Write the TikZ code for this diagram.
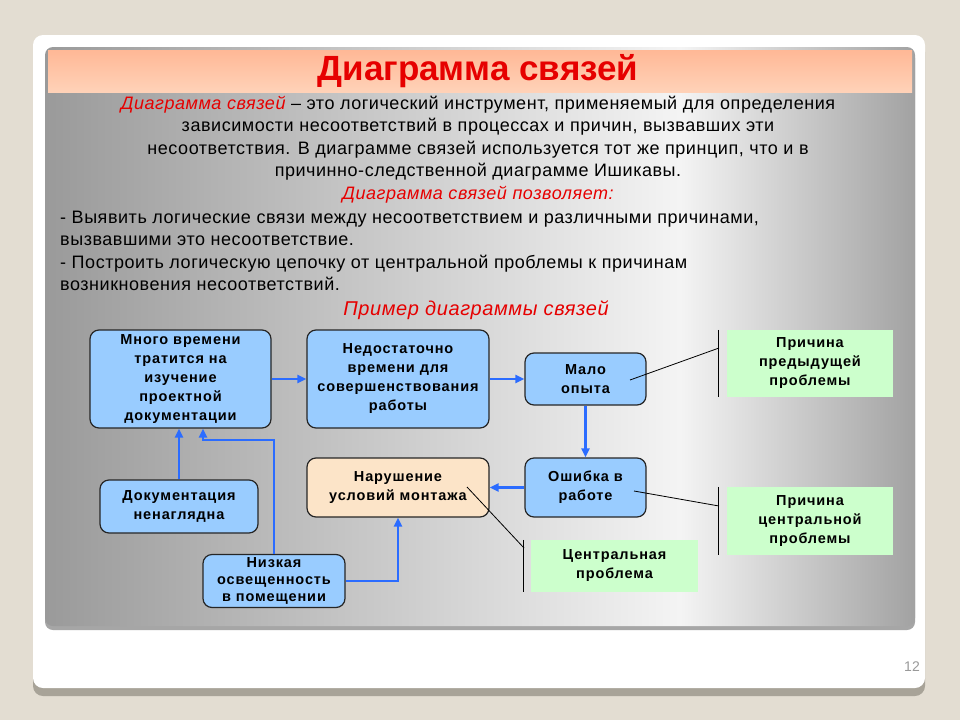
\documentclass[tikz,border=0pt]{standalone}
\usepackage{fontspec}
\setmainfont{Liberation Sans}
\newfontfamily\bodyfont{Liberation Sans}[LetterSpace=3]
\newfontfamily\boxfont{Liberation Sans}[LetterSpace=6]
\usetikzlibrary{arrows.meta}

\definecolor{pagebg}{HTML}{E3DDD2}
\definecolor{cardshadow}{HTML}{A8A398}
\definecolor{paneldark}{HTML}{9A9A9A}
\definecolor{panellight}{HTML}{F4F4F4}
\definecolor{panelright}{HTML}{A2A2A2}
\definecolor{bandtop}{HTML}{FFB896}
\definecolor{bandbot}{HTML}{FFD2B8}
\definecolor{titlered}{HTML}{E60000}
\definecolor{boxblue}{HTML}{99CCFF}
\definecolor{boxpeach}{HTML}{FCE4C8}
\definecolor{notegreen}{HTML}{CCFFCC}
\definecolor{linkblue}{HTML}{2B6CFF}

\begin{document}
\begin{tikzpicture}[x=1pt,y=-1pt,
    cause/.style={draw=black!85,line width=1.2pt,rounded corners=9pt,fill=boxblue,
      font=\boxfont\fontsize{14.5}{19}\selectfont\bfseries,align=center,inner sep=0pt},
    problem/.style={cause,fill=boxpeach},
    note/.style={fill=notegreen,font=\boxfont\fontsize{14.5}{19}\selectfont\bfseries,align=center,inner sep=0pt},
    link/.style={draw=linkblue,line width=2.6pt,-{Triangle[length=9pt,width=8pt]}},
    pointer/.style={draw=black,line width=0.8pt},
    bodytext/.style={font=\bodyfont\fontsize{18}{22.5}\selectfont,inner sep=0pt}
  ]
  % slide background
  \fill[pagebg] (0,0) rectangle (960,720);
  \useasboundingbox (0,0) rectangle (960,720);
  \fill[cardshadow,rounded corners=10pt] (33,42) rectangle (925,696);
  \fill[white,rounded corners=10pt] (33,35) rectangle (925,688);
  \fill[black!35,rounded corners=8pt] (45,50) rectangle (915,630);
  \begin{scope}
    \clip[rounded corners=8pt] (45,47) rectangle (915,626);
    \shade[left color=paneldark,right color=panellight] (45,47) rectangle (680,626);
    \shade[left color=panellight,right color=panelright] (680,47) rectangle (915,626);
    \shade[top color=bandtop,bottom color=bandbot] (48,50) rectangle (912,92);
  \end{scope}
  \node[font=\fontsize{35}{38}\selectfont\bfseries,text=titlered] (title) at (478,71) {Диаграмма связей};

  % definition text
  \node[bodytext,align=center] (intro) at (478,149.5)
    {\textcolor{titlered}{\itshape Диаграмма связей} – это логический инструмент, применяемый для определения\\
     зависимости несоответствий в процессах и причин, вызвавших эти\\
     несоответствия. В диаграмме связей используется тот же принцип, что и в\\
     причинно-следственной диаграмме Ишикавы.\\
     \textcolor{titlered}{\itshape Диаграмма связей позволяет:}};
  \node[bodytext,align=left,anchor=west] (uses) at (60,251)
    {- Выявить логические связи между несоответствием и различными причинами,\\
     вызвавшими это несоответствие.\\
     - Построить логическую цепочку от центральной проблемы к причинам\\
     возникновения несоответствий.};
  \node[bodytext,font=\bodyfont\fontsize{20}{24}\selectfont\itshape,text=titlered] (example) at (476,310) {Пример диаграммы связей};

  % example diagram
  \node[cause,minimum width=181pt,minimum height=98pt] (study) at (180.5,379)
    {Много времени\\тратится на\\изучение\\проектной\\документации};
  \node[cause,minimum width=182pt,minimum height=98pt] (lack) at (398,379)
    {Недостаточно\\времени для\\совершенствования\\работы};
  \node[cause,minimum width=121pt,minimum height=52pt] (exper) at (585.5,379)
    {Мало\\опыта};
  \node[cause,minimum width=121pt,minimum height=59pt] (error) at (585.5,487.5)
    {Ошибка в\\работе};
  \node[problem,minimum width=182pt,minimum height=59pt] (mount) at (398,487.5)
    {Нарушение\\условий монтажа};
  \node[cause,minimum width=158pt,minimum height=53pt] (docs) at (179,506.5)
    {Документация\\ненаглядна};
  \node[cause,minimum width=142pt,minimum height=52pt] (light) at (274,581)
    {\raisebox{-5pt}{\begin{tabular}{@{}c@{}}Низкая\\[-2pt]освещенность\\[-2pt]в помещении\end{tabular}}};

  \node[note,minimum width=166pt,minimum height=67pt] (prev) at (810,363.5)
    {Причина\\предыдущей\\проблемы};
  \node[note,minimum width=166pt,minimum height=68pt] (centr) at (810,521)
    {Причина\\центральной\\проблемы};
  \node[note,minimum width=167pt,minimum height=52pt] (main) at (614.5,566)
    {Центральная\\проблема};

  \coordinate (bend) at (203,440);
  \draw[link] (study) -- (lack);
  \draw[link] (lack) -- (exper);
  \draw[link] (exper) -- (error);
  \draw[link] (error) -- (mount);
  \draw[link] (docs.north) -- (docs.north |- study.south);
  \draw[link] (light.north) |- (bend) -- (bend |- study.south);
  \draw[link] (light.east) -| (mount.south);

  % pointers to the notes
  \draw[pointer] ([xshift=-8pt]prev.north west) -- ([xshift=-8pt]prev.south west);
  \draw[pointer] ([xshift=-8pt]centr.north west) -- ([xshift=-8pt]centr.south west);
  \draw[pointer] ([xshift=-7pt]main.north west) -- ([xshift=-7pt]main.south west);
  \draw[pointer] (630,380) -- (719,348);
  \draw[pointer] (634,491) -- (719,506);
  \draw[pointer] (467,487) -- (524,548);

  \node[font=\fontsize{14}{16}\selectfont,text=black!40] (page) at (912,667) {12};
\end{tikzpicture}
\end{document}
